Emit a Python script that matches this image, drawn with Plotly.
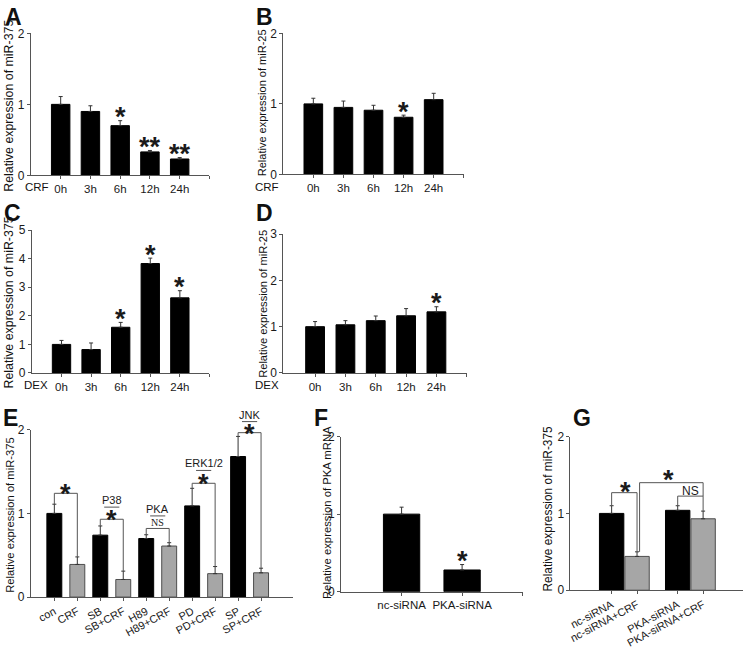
import plotly.graph_objects as go

W, H = 745, 653

# ---------------- data ----------------
time_labels = ["0h", "3h", "6h", "12h", "24h"]

crf_mir375 = [1.00, 0.90, 0.70, 0.33, 0.23]
crf_mir375_err = [0.11, 0.08, 0.07, 0.02, 0.02]
crf_mir375_sig = ["", "", "*", "**", "**"]

crf_mir25 = [1.00, 0.95, 0.91, 0.81, 1.06]
crf_mir25_err = [0.08, 0.09, 0.07, 0.03, 0.09]
crf_mir25_sig = ["", "", "", "*", ""]

dex_mir375 = [1.00, 0.82, 1.60, 3.83, 2.63]
dex_mir375_err = [0.14, 0.23, 0.17, 0.19, 0.25]
dex_mir375_sig = ["", "", "*", "*", "*"]

dex_mir25 = [1.00, 1.04, 1.13, 1.235, 1.32]
dex_mir25_err = [0.11, 0.09, 0.10, 0.155, 0.11]
dex_mir25_sig = ["", "", "", "", "*"]

inhib_labels = ["con", "CRF", "SB", "SB+CRF", "H89", "H89+CRF", "PD", "PD+CRF", "SP", "SP+CRF"]
inhib_vals = [1.00, 0.39, 0.74, 0.21, 0.70, 0.61, 1.09, 0.28, 1.68, 0.29]
inhib_err = [0.11, 0.09, 0.11, 0.10, 0.045, 0.04, 0.21, 0.085, 0.24, 0.055]
inhib_crf = [False, True, False, True, False, True, False, True, False, True]
# comparisons: (left idx, right idx, bracket height, pathway label, mark, mark height, label height)
inhib_pairs = [(0, 1, 1.24, "", "*", 1.30, None),
               (2, 3, 0.93, "P38", "*", 0.99, 1.16),
               (4, 5, 0.82, "PKA", "NS", 0.89, 1.05),
               (6, 7, 1.36, "ERK1/2", "*", 1.427, 1.60),
               (8, 9, 1.965, "JNK", "*", 2.015, 2.18)]

sirna_labels = ["nc-siRNA", "PKA-siRNA"]
pka_mrna = [1.00, 0.28]
pka_mrna_err = [0.09, 0.07]
pka_mrna_sig = ["", "*"]

g_labels = ["nc-siRNA", "nc-siRNA+CRF", "PKA-siRNA", "PKA-siRNA+CRF"]
g_vals = [1.00, 0.44, 1.04, 0.93]
g_err = [0.10, 0.06, 0.06, 0.10]
g_crf = [False, True, False, True]
g_pos = [0, 1, 2.6, 3.6]

# ---------------- styling ----------------
FONT = "Arial, Liberation Sans, sans-serif"
BLACK = "#000000"
GRAY = "#a6a6a6"
GRAY_LINE = "#4d4d4d"
AXIS = "#555555"
BR = "#555555"
STAR_SIZE = 27


def px(x):
    return x / W


def py(y):
    return 1 - y / H


# panel geometry in pixels: x-axis left/right, y-axis top/bottom
panels = {
    1: dict(x=(29, 208), y=(27, 172), xr=[-1, 5], yr=[0, 2]),
    2: dict(x=(282, 463), y=(27, 171), xr=[-1, 5], yr=[0, 2]),
    3: dict(x=(30, 208), y=(228, 374), xr=[-1, 5], yr=[0, 5]),
    4: dict(x=(282, 466), y=(232, 374), xr=[-1.05, 5], yr=[0, 3]),
    5: dict(x=(29, 292), y=(432, 603), xr=[-1.02, 10.4], yr=[0, 2]),
    6: dict(x=(340, 522), y=(439, 597.5), xr=[-1, 2], yr=[0, 2]),
    7: dict(x=(570, 743), y=(439, 596), xr=[-1.62, 5.17], yr=[0, 2]),
}

layout = dict(width=W, height=H, margin=dict(l=0, r=0, t=0, b=0),
              plot_bgcolor="white", paper_bgcolor="white",
              showlegend=False, font=dict(family=FONT, color="#1a1a1a"),
              annotations=[], shapes=[])


def ax_name(n, a):
    return f"{a}axis" if n == 1 else f"{a}axis{n}"


def ref(n, a):
    return a if n == 1 else f"{a}{n}"


for n, p in panels.items():
    layout[ax_name(n, "x")] = dict(domain=[px(p["x"][0]), px(p["x"][1])], range=p["xr"],
                                   anchor=ref(n, "y"), showline=True, linecolor=AXIS, linewidth=1,
                                   ticks="outside", ticklen=3, tickcolor=AXIS, showgrid=False,
                                   zeroline=False, tickfont=dict(size=11.5, color="#1a1a1a"))
    layout[ax_name(n, "y")] = dict(domain=[py(p["y"][1]), py(p["y"][0])], range=p["yr"],
                                   anchor=ref(n, "x"), showline=True, linecolor=AXIS, linewidth=1,
                                   ticks="outside", ticklen=3, tickcolor=AXIS, showgrid=False,
                                   zeroline=False, dtick=1, tickfont=dict(size=12, color="#1a1a1a"))

fig = go.Figure()


def add_bars(n, xs, vals, errs, crf_flags, width):
    fig.add_trace(go.Bar(
        x=xs, y=vals, width=width,
        marker=dict(color=[GRAY if c else BLACK for c in crf_flags],
                    line=dict(color=[GRAY_LINE if c else BLACK for c in crf_flags], width=1)),
        error_y=dict(type="data", array=errs, arrayminus=[0] * len(errs), symmetric=False,
                     color="#333333", thickness=1, width=2),
        xaxis=ref(n, "x"), yaxis=ref(n, "y"), showlegend=False, hoverinfo="x+y"))


def to_dom(n, x, y):
    p = panels[n]
    return ((x - p["xr"][0]) / (p["xr"][1] - p["xr"][0]),
            (y - p["yr"][0]) / (p["yr"][1] - p["yr"][0]))


def star(n, x, y, text, lift=0.0, size=STAR_SIZE, family=FONT, corr=True, bold=False):
    dx, dy = to_dom(n, x, y)
    layout["annotations"].append(dict(
        x=dx, y=dy, xref=f"{ref(n, 'x')} domain", yref=f"{ref(n, 'y')} domain",
        text=f"<b>{text}</b>" if bold else text, showarrow=False,
        xanchor="center", yanchor="middle", yshift=lift - (0.22 * size if corr else 0),
        font=dict(size=size, family=family, color="#1a1a1a")))


def seg(n, x0, y0, x1, y1, color=BR):
    a0, b0 = to_dom(n, x0, y0)
    a1, b1 = to_dom(n, x1, y1)
    layout["shapes"].append(dict(type="line", xref=f"{ref(n, 'x')} domain", yref=f"{ref(n, 'y')} domain",
                                 x0=a0, y0=b0, x1=a1, y1=b1, line=dict(color=color, width=1)))


def bracket(n, xl, xr, ytop, yl, yr):
    seg(n, xl, yl, xl, ytop)
    seg(n, xl, ytop, xr, ytop)
    seg(n, xr, ytop, xr, yr)


# ---- panels A-D: time courses ----
time_sets = [
    (1, crf_mir375, crf_mir375_err, crf_mir375_sig),
    (2, crf_mir25, crf_mir25_err, crf_mir25_sig),
    (3, dex_mir375, dex_mir375_err, dex_mir375_sig),
    (4, dex_mir25, dex_mir25_err, dex_mir25_sig),
]
xs_t = list(range(len(time_labels)))
for n, vals, errs, sig in time_sets:
    add_bars(n, xs_t, vals, errs, [False] * len(vals), 0.62)
    layout[ax_name(n, "x")].update(tickvals=xs_t + [len(xs_t)], ticktext=time_labels + [""])
    for i, s in enumerate(sig):
        if s:
            star(n, i, vals[i] + errs[i], s, lift=9.5, bold=True)

# ---- panel E ----
xs_e = list(range(len(inhib_labels)))
add_bars(5, xs_e, inhib_vals, inhib_err, inhib_crf, 0.65)
layout["xaxis5"].update(tickvals=xs_e, ticktext=inhib_labels, tickangle=-28,
                        tickfont=dict(size=11, color="#1a1a1a"))
for li, ri, yb, lab, mark, ym, ylab in inhib_pairs:
    bracket(5, li, ri, yb, inhib_vals[li] + inhib_err[li], inhib_vals[ri] + inhib_err[ri])
    cx = (li + ri) / 2
    if mark == "NS":
        star(5, cx, ym, "NS", size=10, family="Times New Roman, Liberation Serif, serif", corr=False)
    else:
        star(5, cx, ym, mark, bold=True)
    if lab:
        star(5, cx, ylab, lab, size=11, corr=False)
        seg(5, cx - 0.33, (ylab + ym) / 2, cx + 0.33, (ylab + ym) / 2)

# ---- panel F ----
xs_f = list(range(len(sirna_labels)))
add_bars(6, xs_f, pka_mrna, pka_mrna_err, [False, False], 0.6)
layout["xaxis6"].update(tickvals=xs_f + [2], ticktext=sirna_labels + [""])
for i, s in enumerate(pka_mrna_sig):
    if s:
        star(6, i, pka_mrna[i] + pka_mrna_err[i], s, lift=9.5, bold=True)

# ---- panel G ----
add_bars(7, g_pos, g_vals, g_err, g_crf, 0.96)
layout["xaxis7"].update(tickvals=g_pos, ticktext=g_labels, tickangle=-28,
                        tickfont=dict(size=11, color="#1a1a1a"))
gtop = [v + e for v, e in zip(g_vals, g_err)]
bracket(7, g_pos[0], g_pos[1], 1.27, gtop[0], gtop[1])
star(7, (g_pos[0] + g_pos[1]) / 2 + 0.04, 1.35, "*", bold=True)
bracket(7, g_pos[2], g_pos[3], 1.225, gtop[2], gtop[3])
star(7, (g_pos[2] + g_pos[3]) / 2 - 0.01, 1.29, "NS", size=12, corr=False)
bracket(7, g_pos[1] + 0.1, g_pos[3], 1.40, gtop[1], 1.225)
star(7, 2.24, 1.51, "*", bold=True)


# ---- text labels ----
def ptext(x, y, text, size, angle=0, bold=False, xanchor="center"):
    layout["annotations"].append(dict(
        x=px(x), y=py(y), xref="paper", yref="paper", text=f"<b>{text}</b>" if bold else text,
        showarrow=False, textangle=angle, xanchor=xanchor, yanchor="middle",
        font=dict(size=size, family=FONT, color="#111111")))


for lt, x, y in [("A", 1, 10), ("B", 253, 10.5), ("C", 0, 210.5), ("D", 253, 210.5),
                 ("E", -1, 420.5), ("F", 311, 420.5), ("G", 571, 420)]:
    ptext(x, y, lt, 23, bold=True, xanchor="left")

ptext(7, 101, "Relative expression of miR-375", 12.4, angle=-90)
ptext(261, 98, "Relative expression of miR-25", 11, angle=-90)
ptext(7, 302, "Relative expression of miR-375", 12.4, angle=-90)
ptext(261, 303, "Relative expression of miR-25", 11.1, angle=-90)
ptext(8, 519, "Relative expression of miR-375", 11.2, angle=-90)
ptext(326, 517, "Relative expression of PKA mRNA", 11.3, angle=-90)
ptext(547, 513, "Relative expression of miR-375", 11.9, angle=-90)

ptext(35, 184, "CRF", 11.5)
ptext(265.5, 184, "CRF", 11.5)
ptext(34, 386, "DEX", 11.5)
ptext(266, 386, "DEX", 11.5)

fig.update_layout(**layout)
fig.write_html("out.html", config={"displayModeBar": False},
               post_script="document.body.style.margin='0';document.body.style.padding='0';")
